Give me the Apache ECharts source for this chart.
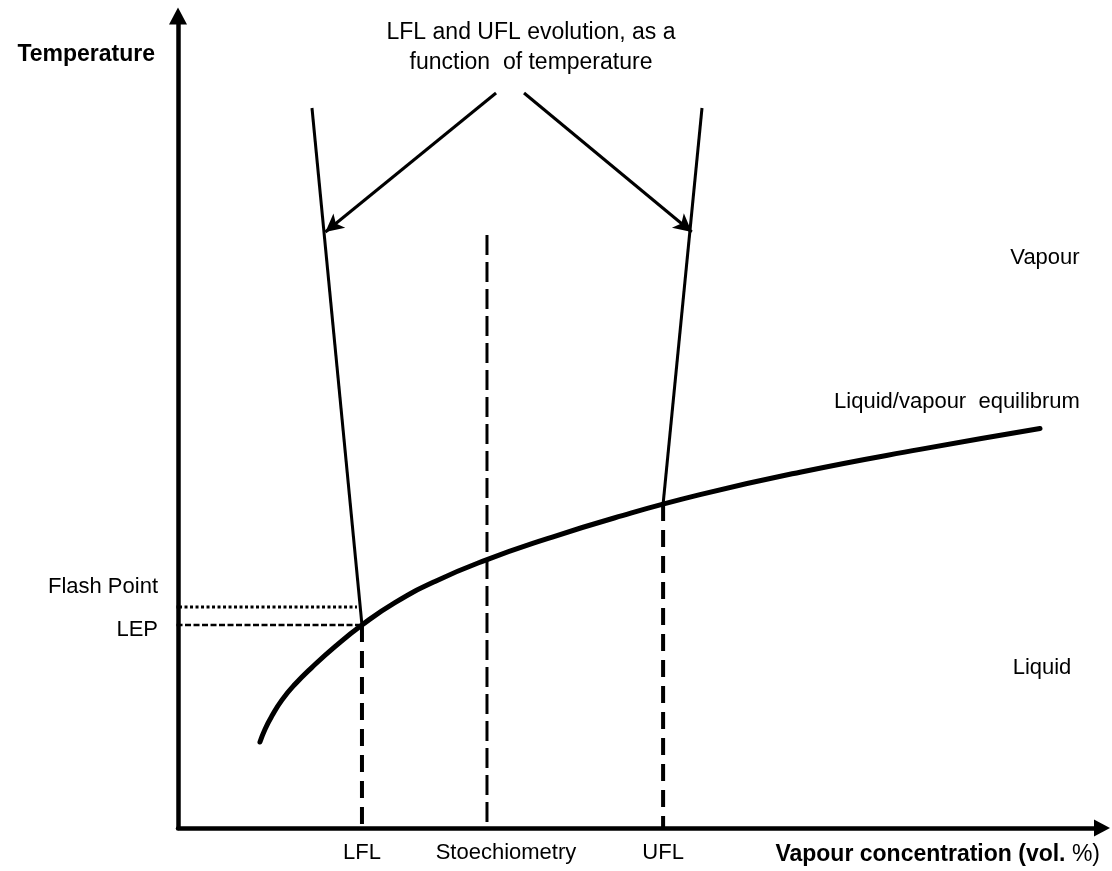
<!DOCTYPE html>
<html><head><meta charset="utf-8">
<script src="https://cdn.jsdelivr.net/npm/echarts@6/dist/echarts.min.js"></script>
<style>html,body{margin:0;padding:0;background:#fff}#c{width:1112px;height:871px}</style>
</head><body><div id="c"></div>
<script>
// Schematic diagram: arbitrary 0-100 units on both axes (the original has no numeric scale)
const equilibriumX = [8.87, 9.42, 10.17, 11.26, 12.66, 14.50, 16.99, 19.91, 23.48, 27.81, 33.23, 39.72, 47.29, 56.49, 67.32, 80.30, 93.29];
const equilibriumY = [10.59, 12.17, 13.81, 15.78, 17.70, 19.79, 22.34, 25.00, 27.76, 30.37, 32.96, 35.54, 38.21, 41.05, 43.82, 46.63, 49.21];
const lflX = [14.50, 19.91];
const lflY = [88.67, 25.0];
const uflX = [56.71, 52.50];
const uflY = [88.67, 39.90];
const stoechX = 33.44;
const stoechTopY = 73.03;
const flashPointY = 27.22;
const lepY = 25.0;
const refLineStartX = -1.08;
const flashLineEndX = 19.37;
const lepLineEndX = 19.70;
const arrowLeft = [[34.42, 90.52], [15.95, 73.40]];
const arrowRight = [[37.45, 90.52], [55.60, 73.40]];
const xTickLabels = ['LFL', 'Stoechiometry', 'UFL'];
const xTickValues = [lflX[1], stoechX, uflX[1]];
const yTickLabels = ['Flash Point', 'LEP'];
const yTickValues = [flashPointY, lepY];

const FONT = "'Liberation Sans', Arial, sans-serif";
const zip = (a, b) => a.map((v, i) => [v, b[i]]);

const chart = echarts.init(document.getElementById('c'), null, {renderer: 'canvas'});
const black = '#000';
function seg(name, data, width, type, extra) {
  return Object.assign({
    name: name, type: 'line', data: data, symbol: 'none', silent: true,
    lineStyle: {color: black, width: width, type: type}, z: 3
  }, extra || {});
}

chart.setOption({
  animation: false,
  backgroundColor: '#fff',
  grid: {left: 178, right: 10, top: 16, bottom: 43, containLabel: false},
  xAxis: {
    type: 'value', min: 0, max: 100,
    name: '{b|Vapour concentration (vol. }{n|%)}',
    nameLocation: 'end', nameGap: -2,
    nameTextStyle: {
      align: 'right', verticalAlign: 'middle', padding: [54, 0, 0, 0],
      rich: {
        b: {fontFamily: FONT, fontSize: 23, fontWeight: 'bold', color: black},
        n: {fontFamily: FONT, fontSize: 23, fontWeight: 'normal', color: black}
      }
    },
    axisLine: {show: true, symbol: ['none', 'triangle'], symbolSize: [17, 16], lineStyle: {color: black, width: 4.5}},
    axisTick: {show: false},
    splitLine: {show: false},
    axisLabel: {
      show: true, customValues: xTickValues, margin: 14,
      fontFamily: FONT, fontSize: 22, color: black,
      formatter: function (v) {
        const i = xTickValues.indexOf(v);
        if (i < 0) return '';
        return i === 1 ? '{s|' + xTickLabels[i] + '}' : xTickLabels[i];
      },
      rich: {s: {fontFamily: FONT, fontSize: 22, color: black, padding: [0, 0, 0, 38]}}
    }
  },
  yAxis: {
    type: 'value', min: 0, max: 100,
    name: 'Temperature', nameLocation: 'end', nameGap: -39,
    nameTextStyle: {align: 'right', verticalAlign: 'middle', padding: [0, 23, 0, 0], fontFamily: FONT, fontSize: 23, fontWeight: 'bold', color: black},
    axisLine: {show: true, symbol: ['none', 'triangle'], symbolSize: [18, 17], lineStyle: {color: black, width: 4.5}},
    axisTick: {show: false},
    splitLine: {show: false},
    axisLabel: {
      show: true, customValues: yTickValues, margin: 20,
      fontFamily: FONT, fontSize: 22, color: black,
      formatter: function (v) {
        const i = yTickValues.indexOf(v);
        if (i < 0) return '';
        return i === 0 ? '{fp|' + yTickLabels[i] + '}' : '{lep|' + yTickLabels[i] + '}';
      },
      rich: {
        fp: {fontFamily: FONT, fontSize: 22, color: black, padding: [0, 0, 40, 0]},
        lep: {fontFamily: FONT, fontSize: 22, color: black, padding: [10, 0, 0, 0]}
      }
    }
  },
  graphic: [
    {type: 'text', x: 531, y: 48, silent: true, style: {text: 'LFL and UFL evolution, as a\nfunction  of temperature', align: 'center', verticalAlign: 'middle', lineHeight: 30, font: '23px ' + FONT, fill: black}},
    {type: 'text', x: 1045, y: 258, silent: true, style: {text: 'Vapour', align: 'center', verticalAlign: 'middle', font: '22px ' + FONT, fill: black}},
    {type: 'text', x: 957, y: 402, silent: true, style: {text: 'Liquid/vapour  equilibrum', align: 'center', verticalAlign: 'middle', font: '22px ' + FONT, fill: black}},
    {type: 'text', x: 1042, y: 668, silent: true, style: {text: 'Liquid', align: 'center', verticalAlign: 'middle', font: '22px ' + FONT, fill: black}}
  ],
  series: [
    seg('LFL (T)', zip(lflX, lflY), 3, 'solid'),
    seg('UFL (T)', zip(uflX, uflY), 3, 'solid'),
    seg('LFL', [[lflX[1], lflY[1]], [lflX[1], 0]], 4, [17, 9]),
    seg('UFL', [[uflX[1], uflY[1]], [uflX[1], 0]], 4, [17, 9]),
    seg('Stoechiometry', [[stoechX, stoechTopY], [stoechX, 0]], 3, [20, 7], {
      markLine: {
        silent: true, symbol: ['none', 'arrow'], symbolSize: [14, 18],
        label: {show: false}, emphasis: {disabled: true},
        lineStyle: {color: black, width: 3, type: 'solid'},
        data: [
          [{coord: arrowLeft[0]}, {coord: arrowLeft[1]}],
          [{coord: arrowRight[0]}, {coord: arrowRight[1]}]
        ]
      }
    }),
    seg('Flash Point', [[refLineStartX, flashPointY], [flashLineEndX, flashPointY]], 3, [3, 2.5], {clip: false}),
    seg('LEP', [[refLineStartX, lepY], [lepLineEndX, lepY]], 2.5, [6, 2.5], {clip: false}),
    seg('Liquid/vapour equilibrium', zip(equilibriumX, equilibriumY), 5, 'solid', {smooth: 0.5, z: 5, lineStyle: {color: black, width: 5, cap: 'round', join: 'round'}})
  ]
});
</script>
</body></html>
